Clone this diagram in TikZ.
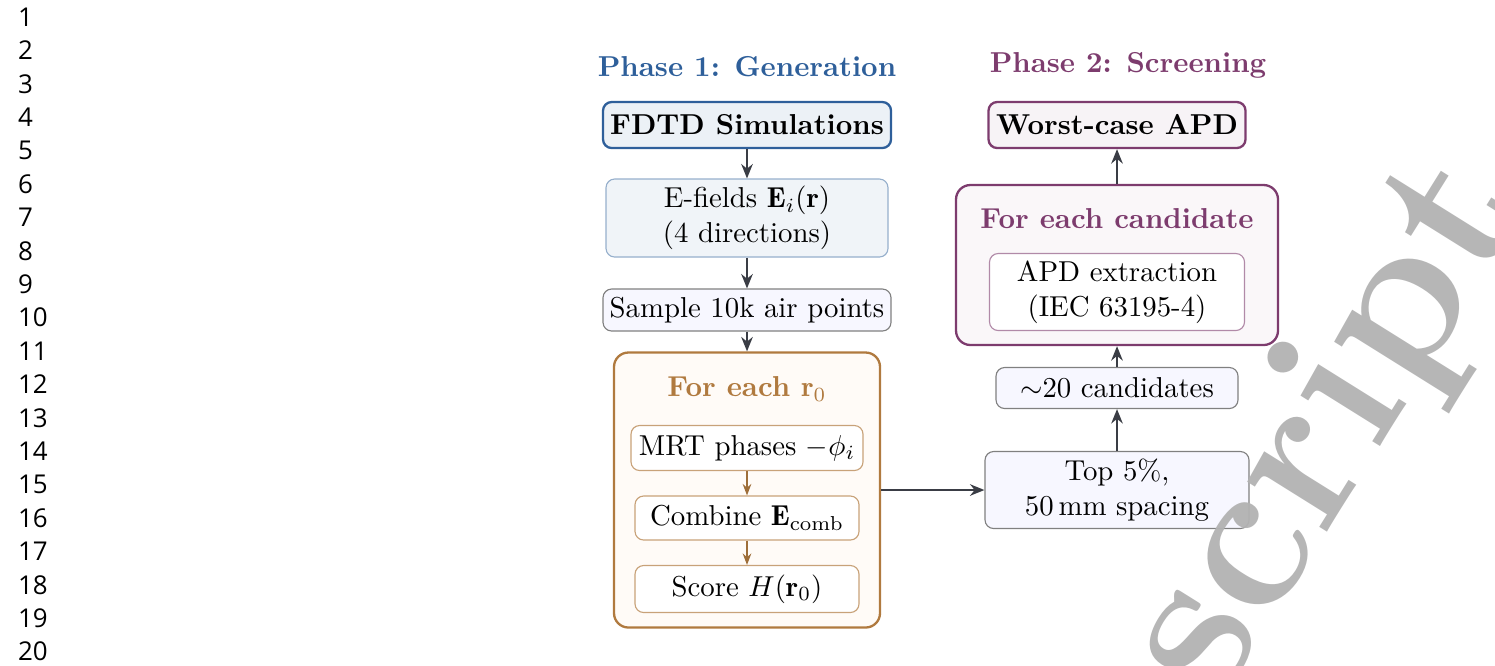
\documentclass[tikz,border=0pt]{standalone}
\usepackage{amsmath}
\usepackage{amssymb}
\usepackage{fontspec}
\newfontfamily\lnfont{Open Sans}
\usepackage{tikz}
\usetikzlibrary{arrows.meta, positioning}

\definecolor{phaseblue}{HTML}{2E5F9A}
\definecolor{phaseorange}{HTML}{B07A3F}
\definecolor{phasepurple}{HTML}{7D3C6E}
\definecolor{arrowgray}{HTML}{3A3D45}
\def\pxu{0.0122cm}

\tikzset{
    box/.style={draw, rounded corners=3pt, align=center, inner sep=2pt},
    flow/.style={-{Stealth[length=5pt, width=4pt]}, arrowgray, thick},
    innerflow/.style={-{Stealth[length=4pt, width=3pt]}, phaseorange!90!black},
}

\begin{document}
\begin{tikzpicture}[x=\pxu, y=-\pxu]
    \useasboundingbox (0,0) rectangle (1495,665);
    % line numbers
    \foreach \n in {1,...,20}
        \node[font=\lnfont\small, anchor=west] (ln\n) at (8,{17+(\n-1)*33.4}) {\n};
    % phase 1
    \node[font=\bfseries, text=phaseblue] (ph1) at (747,67) {Phase 1: Generation};
    \node[box, thick, draw=phaseblue, fill=phaseblue!9, font=\bfseries,
          minimum width=288*\pxu, minimum height=46*\pxu] (fdtd) at (747,125) {FDTD Simulations};
    \node[box, draw=phaseblue!50, fill=phaseblue!7,
          minimum width=282*\pxu, minimum height=78*\pxu] (fields) at (747,218)
          {E-fields $\mathbf{E}_i(\mathbf{r})$\\(4 directions)};
    \node[box, draw=gray, fill=blue!3,
          minimum width=288*\pxu, minimum height=42*\pxu] (sample) at (747,310) {Sample 10k air points};
    \node[box, thick, draw=phaseorange, fill=orange!3, rounded corners=5pt,
          minimum width=266*\pxu, minimum height=275*\pxu] (loop) at (747,490) {};
    \node[font=\bfseries, text=phaseorange] (looptitle) at (747,389) {For each $\mathbf{r}_0$};
    \node[box, draw=phaseorange!70, fill=white,
          minimum width=232*\pxu, minimum height=45*\pxu] (mrt) at (747,448) {MRT phases $-\phi_i$};
    \node[box, draw=phaseorange!70, fill=white,
          minimum width=224*\pxu, minimum height=44*\pxu] (comb) at (747,518) {Combine $\mathbf{E}_{\text{comb}}$};
    \node[box, draw=phaseorange!70, fill=white,
          minimum width=224*\pxu, minimum height=47*\pxu] (score) at (747,589) {Score $H(\mathbf{r}_0)$};
    % phase 2
    \node[font=\bfseries, text=phasepurple] (ph2) at (1128,65) {Phase 2: Screening};
    \node[box, draw=gray, fill=blue!3,
          minimum width=264*\pxu, minimum height=77*\pxu] (top) at (1117,490) {Top 5\%,\\50\,mm spacing};
    \node[box, draw=gray, fill=blue!3,
          minimum width=242*\pxu, minimum height=41*\pxu] (cand) at (1117,388) {$\sim$20 candidates};
    \node[box, thick, draw=phasepurple, fill=phasepurple!4, rounded corners=5pt,
          minimum width=322*\pxu, minimum height=160*\pxu] (each) at (1117,265) {};
    \node[font=\bfseries, text=phasepurple] (eachtitle) at (1117,219) {For each candidate};
    \node[box, draw=phasepurple!60, fill=white,
          minimum width=255*\pxu, minimum height=77*\pxu] (apd) at (1117,292) {APD extraction\\(IEC 63195-4)};
    \node[box, thick, draw=phasepurple, fill=phasepurple!6, font=\bfseries,
          minimum width=257*\pxu, minimum height=46*\pxu] (worst) at (1117,125) {Worst-case APD};
    % connectors
    \draw[flow] (fdtd) -- (fields);
    \draw[flow] (fields) -- (sample);
    \draw[flow] (sample) -- (loop);
    \draw[innerflow] (mrt) -- (comb);
    \draw[innerflow] (comb) -- (score);
    \draw[flow] (loop) -- (top);
    \draw[flow] (top) -- (cand);
    \draw[flow] (cand) -- (each);
    \draw[flow] (each) -- (worst);
    % watermark
    \begin{scope}
        \clip (0,0) rectangle (1495,665);
        \node[text=gray!60, font=\bfseries\fontsize{74}{74}\selectfont, rotate=58, opacity=0.95] (mark) at (1330,430) {script};
    \end{scope}
\end{tikzpicture}
\end{document}
